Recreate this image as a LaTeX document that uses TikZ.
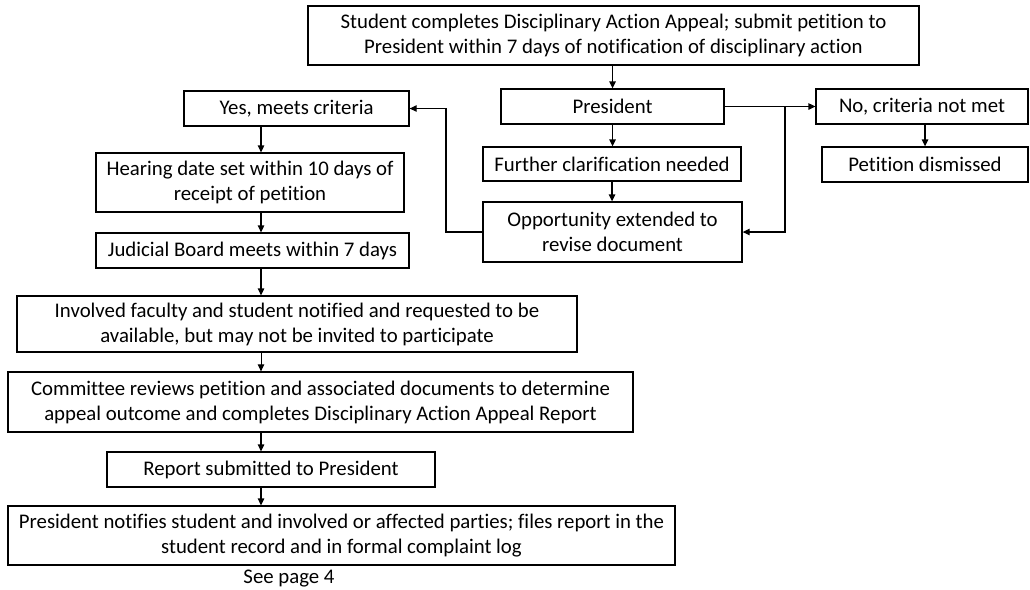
\documentclass[tikz,border=0pt]{standalone}
\usepackage{fontspec}
\setmainfont[Ligatures={NoCommon,NoContextual}]{Carlito}
\usetikzlibrary{arrows.meta}
\begin{document}
\begin{tikzpicture}[x=1pt,y=-1pt,
  box/.style={draw, line width=1.3pt, inner sep=0pt, align=center,
    font=\fontsize{20.8}{25}\selectfont, text=black},
  arr/.style={line width=1.3pt, -{Triangle[length=7pt,width=6.5pt]}},
  plain/.style={line width=1.3pt}]
\useasboundingbox (0,0) rectangle (1030,589);
% middle column
\node[box, minimum width=611pt, minimum height=59pt] (top) at (613.5,35.5)
  {Student completes Disciplinary Action Appeal; submit petition to\\President within 7 days of notification of disciplinary action};
\node[box, minimum width=223pt, minimum height=35pt] (pres) at (612.5,106.5) {President};
\node[box, minimum width=258pt, minimum height=34pt] (fur) at (612,164) {Further clarification needed};
\node[box, minimum width=259pt, minimum height=60pt] (opp) at (612.5,232) {Opportunity extended to\\revise document};
% right column
\node[box, minimum width=212pt, minimum height=35pt] (no) at (922,106.5) {No, criteria not met};
\node[box, minimum width=206pt, minimum height=35pt] (dis) at (925,164.5) {Petition dismissed};
% left column
\node[box, minimum width=225pt, minimum height=35pt] (yes) at (296.5,108.5) {Yes, meets criteria};
\node[box, minimum width=308pt, minimum height=59pt] (hear) at (250,182.5) {Hearing date set within 10 days of\\receipt of petition};
\node[box, minimum width=313pt, minimum height=35pt] (jud) at (252.5,250.5) {Judicial Board meets within 7 days};
\node[box, minimum width=560pt, minimum height=56pt] (inv) at (297,324) {Involved faculty and student notified and requested to be\\available, but may not be invited to participate};
\node[box, minimum width=625pt, minimum height=60pt] (com) at (320.5,402) {Committee reviews petition and associated documents to determine\\appeal outcome and completes Disciplinary Action Appeal Report};
\node[box, minimum width=328pt, minimum height=35pt] (rep) at (271,469.5) {Report submitted to President};
\node[box, minimum width=667pt, minimum height=59pt] (fin) at (341.5,535.5) {President notifies student and involved or affected parties; files report in the\\student record and in formal complaint log};
\node[font=\fontsize{20.8}{25}\selectfont, text=black, inner sep=0pt] (see) at (289,579) {See page 4};
% helper coordinates
\coordinate (c) at (261,0);
\coordinate (j) at (785,0);
\coordinate (k) at (446,0);
% connectors
\draw[arr] (top.south -| pres.north) -- (pres.north);
\draw[arr] (pres.south) -- (pres.south |- fur.north);
\draw[arr] (fur.south) -- (fur.south |- opp.north);
\draw[arr] (pres.east) -- (no.west);
\draw[arr] (pres.east -| j) |- (opp.east);
\draw[arr] (opp.west) -| (k |- yes.east) -- (yes.east);
\draw[arr] (no.south -| dis.north) -- (dis.north);
\draw[arr] (yes.south -| c) -- (hear.north -| c);
\draw[arr] (hear.south -| c) -- (jud.north -| c);
\draw[arr] (jud.south -| c) -- (inv.north -| c);
\draw[arr, line width=0.8pt] (inv.south -| c) -- (com.north -| c);
\draw[arr] (com.south -| c) -- (rep.north -| c);
\draw[arr] (rep.south -| c) -- (fin.north -| c);
\end{tikzpicture}
\end{document}
